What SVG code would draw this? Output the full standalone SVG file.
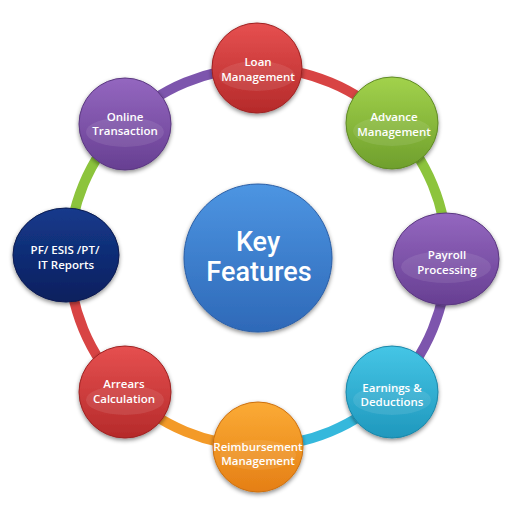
<svg xmlns="http://www.w3.org/2000/svg" width="512" height="512" viewBox="0 0 512 512">
<defs>
<linearGradient id="gRed" x1="0" y1="0" x2="0" y2="1"><stop offset="0" stop-color="#e65050"/><stop offset="1" stop-color="#b52a2a"/></linearGradient>
<linearGradient id="gGreen" x1="0" y1="0" x2="0" y2="1"><stop offset="0" stop-color="#a2d24c"/><stop offset="1" stop-color="#6f9f2c"/></linearGradient>
<linearGradient id="gPurple" x1="0" y1="0" x2="0" y2="1"><stop offset="0" stop-color="#9467c0"/><stop offset="1" stop-color="#673f92"/></linearGradient>
<linearGradient id="gCyan" x1="0" y1="0" x2="0" y2="1"><stop offset="0" stop-color="#45c6e6"/><stop offset="1" stop-color="#1f98bd"/></linearGradient>
<linearGradient id="gOrange" x1="0" y1="0" x2="0" y2="1"><stop offset="0" stop-color="#fbab35"/><stop offset="1" stop-color="#e57f15"/></linearGradient>
<linearGradient id="gNavy" x1="0" y1="0" x2="0" y2="1"><stop offset="0" stop-color="#153a8c"/><stop offset="1" stop-color="#0a1f5e"/></linearGradient>
<linearGradient id="gBlue" x1="0" y1="0" x2="0" y2="1"><stop offset="0" stop-color="#4d95e2"/><stop offset="1" stop-color="#2e69b8"/></linearGradient>
<filter id="sh" x="-20%" y="-20%" width="140%" height="150%"><feDropShadow dx="0" dy="2" stdDeviation="2" flood-color="#000" flood-opacity="0.45"/></filter>
<style>
.ring{fill:none;stroke-width:10;stroke-linecap:butt}
.node{filter:url(#sh);stroke-width:1}
.hl{fill:#fff;fill-opacity:0.09}
.lbl{font-family:"Open Sans","Noto Sans",sans-serif;font-weight:600;font-size:11.5px;fill:#fff;text-anchor:middle}
.big{font-family:Roboto,"Noto Sans",sans-serif;font-weight:500;font-size:27px;fill:#fff;text-anchor:middle}
</style>
</defs>
<rect width="512" height="512" fill="#fff"/>
<g id="connectors">
<path class="ring" stroke="#d84444" d="M258,68 A189,189 0 0 1 391.64,123.36"/>
<path class="ring" stroke="#8cc43c" d="M391.64,123.36 A189,189 0 0 1 447,257"/>
<path class="ring" stroke="#7d55ad" d="M447,257 A189,189 0 0 1 391.64,390.64"/>
<path class="ring" stroke="#35b8dc" d="M391.64,390.64 A189,189 0 0 1 258,446"/>
<path class="ring" stroke="#f39a28" d="M258,446 A189,189 0 0 1 124.36,390.64"/>
<path class="ring" stroke="#d84444" d="M124.36,390.64 A189,189 0 0 1 69,257"/>
<path class="ring" stroke="#8cc43c" d="M69,257 A189,189 0 0 1 124.36,123.36"/>
<path class="ring" stroke="#7d55ad" d="M124.36,123.36 A189,189 0 0 1 258,68"/>
</g>
<g id="center">
<circle class="node" cx="258" cy="258" r="74" fill="url(#gBlue)" stroke="#2a5ea6"/>
<text class="big" x="258" y="251">Key</text>
<text class="big" x="259" y="281">Features</text>
</g>
<g id="loan">
<circle class="node" cx="257" cy="68" r="45" fill="url(#gRed)" stroke="#9e2222"/>
<ellipse class="hl" cx="257" cy="76" rx="38" ry="15"/>
<text class="lbl" x="258" y="66">Loan</text>
<text class="lbl" x="258" y="81">Management</text>
</g>
<g id="advance">
<circle class="node" cx="392" cy="123" r="46" fill="url(#gGreen)" stroke="#5f8a24"/>
<ellipse class="hl" cx="392" cy="131" rx="39" ry="15"/>
<text class="lbl" x="394" y="121">Advance</text>
<text class="lbl" x="394" y="136">Management</text>
</g>
<g id="payroll">
<ellipse class="node" cx="446" cy="259" rx="53" ry="46" fill="url(#gPurple)" stroke="#5a3780"/>
<ellipse class="hl" cx="446" cy="267" rx="45" ry="16"/>
<text class="lbl" x="447" y="259">Payroll</text>
<text class="lbl" x="447" y="274">Processing</text>
</g>
<g id="earnings">
<circle class="node" cx="392" cy="392" r="46" fill="url(#gCyan)" stroke="#1a86a8"/>
<ellipse class="hl" cx="392" cy="400" rx="39" ry="15"/>
<text class="lbl" x="392" y="392">Earnings &amp;</text>
<text class="lbl" x="392" y="406">Deductions</text>
</g>
<g id="reimbursement">
<circle class="node" cx="258" cy="447" r="45" fill="url(#gOrange)" stroke="#cc7010"/>
<ellipse class="hl" cx="258" cy="455" rx="38" ry="15"/>
<text class="lbl" x="258" y="451">Reimbursement</text>
<text class="lbl" x="258" y="465">Management</text>
</g>
<g id="arrears">
<circle class="node" cx="125" cy="392" r="46" fill="url(#gRed)" stroke="#9e2222"/>
<ellipse class="hl" cx="125" cy="400" rx="39" ry="15"/>
<text class="lbl" x="124" y="388">Arrears</text>
<text class="lbl" x="124" y="403">Calculation</text>
</g>
<g id="pf">
<ellipse class="node" cx="66" cy="255" rx="53" ry="47" fill="url(#gNavy)" stroke="#081a50"/>
<text class="lbl" x="65" y="254">PF/ ESIS /PT/</text>
<text class="lbl" x="66" y="269">IT Reports</text>
</g>
<g id="online">
<circle class="node" cx="125" cy="124" r="46" fill="url(#gPurple)" stroke="#5a3780"/>
<ellipse class="hl" cx="125" cy="132" rx="39" ry="15"/>
<text class="lbl" x="125" y="121">Online</text>
<text class="lbl" x="125" y="135">Transaction</text>
</g>
</svg>
